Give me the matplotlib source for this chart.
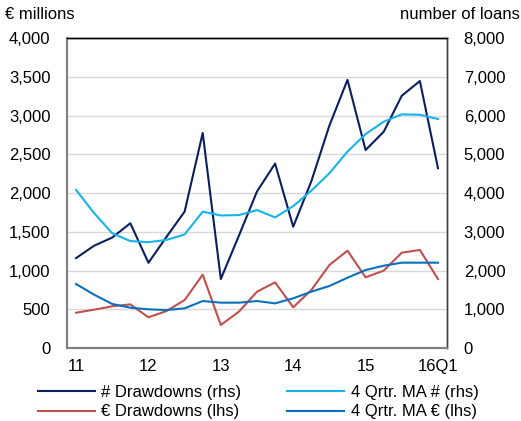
import matplotlib.pyplot as plt
from matplotlib.ticker import FuncFormatter

plt.rcParams["font.family"] = ["Liberation Sans", "DejaVu Sans"]

# Quarterly data, 2011Q1 .. 2016Q1
quarters = list(range(21))
tick_pos = [0, 4, 8, 12, 16, 20]
tick_labels = ["11", "12", "13", "14", "15", "16Q1"]

num_drawdowns = [2320, 2640, 2850, 3220, 2200, 2870, 3520, 5550, 1780, 2900,
                 4040, 4760, 3130, 4300, 5740, 6920, 5110, 5580, 6510, 6890, 4640]
ma_num = [4080, 3480, 2960, 2760, 2730, 2790, 2930, 3520, 3420, 3430,
          3560, 3370, 3660, 4060, 4510, 5070, 5520, 5840, 6030, 6020, 5910]
eur_drawdowns = [455, 495, 538, 563, 396, 477, 619, 946, 297, 469,
                 727, 847, 525, 748, 1071, 1256, 912, 998, 1230, 1265, 890]
ma_eur = [826, 688, 568, 520, 499, 490, 512, 606, 585, 585,
          606, 576, 641, 727, 800, 907, 1006, 1062, 1101, 1101, 1101]

C_NAVY = "#0B1F5E"
C_LIGHT = "#16B4EA"
C_RED = "#C0504D"
C_BLUE = "#0A70BE"
FS = 12

fig = plt.figure(figsize=(5.21, 4.21), dpi=100)
ax = fig.add_axes([0.1286, 0.1734, 0.7294, 0.7363])
ax2 = ax.twinx()

fmt = FuncFormatter(lambda v, p: f"{int(v):,}")

# left axis (EUR)
l3, = ax.plot(quarters, eur_drawdowns, color=C_RED, lw=1.5, label="€ Drawdowns (lhs)")
l4, = ax.plot(quarters, ma_eur, color=C_BLUE, lw=1.5, label="4 Qrtr. MA € (lhs)")
ax.set_ylim(0, 4000)
ax.set_yticks(range(0, 4001, 500))
ax.yaxis.set_major_formatter(fmt)
ax.set_xlim(-0.5, 20.5)
ax.set_xticks(tick_pos)
ax.set_xticklabels(tick_labels)
ax.grid(axis="y", color="#D9D9D9", lw=1)
ax.set_axisbelow(True)

# right axis (number of loans)
l1, = ax2.plot(quarters, num_drawdowns, color=C_NAVY, lw=1.5, label="# Drawdowns (rhs)")
l2, = ax2.plot(quarters, ma_num, color=C_LIGHT, lw=1.5, label="4 Qrtr. MA # (rhs)")
ax2.set_ylim(0, 8000)
ax2.set_yticks(range(0, 8001, 1000))
ax2.yaxis.set_major_formatter(fmt)

for a in (ax, ax2):
    a.tick_params(length=0, labelsize=FS, colors="black")
    a.tick_params(axis="y", pad=12)
    a.tick_params(axis="x", pad=8)
    a.spines["left"].set_color("#808080")
    a.spines["bottom"].set_color("#808080")
    a.spines["top"].set_color("black")
    a.spines["right"].set_color("#404040")
    for s in a.spines.values():
        s.set_linewidth(1.0)
    a.spines["left"].set_linewidth(1.5)
    a.spines["bottom"].set_linewidth(1.5)

fig.text(0.01, 0.965, "€ millions", fontsize=FS, ha="left", va="center")
fig.text(0.998, 0.965, "number of loans", fontsize=FS, ha="right", va="center")

fig.legend(handles=[l1, l3, l2, l4], ncol=2, loc="lower left",
           bbox_to_anchor=(0.06, -0.012), frameon=False, fontsize=FS,
           handlelength=3.4, handletextpad=0.4, columnspacing=2.75,
           labelspacing=0.25, borderaxespad=0)

fig.savefig("out.png", dpi=100)
